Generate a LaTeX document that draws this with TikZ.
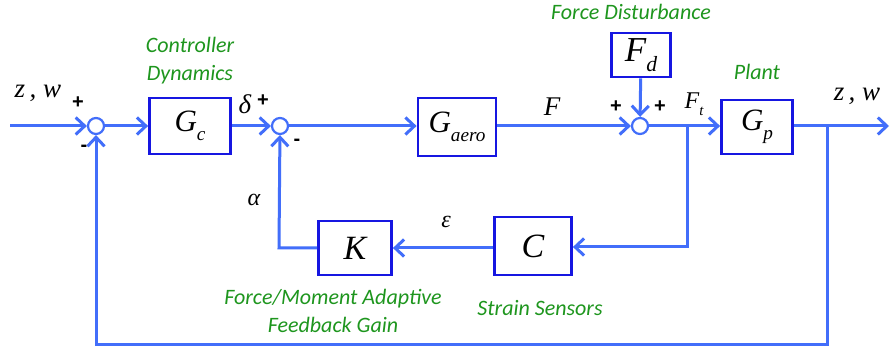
\documentclass[tikz,border=0pt]{standalone}
\usepackage{fontspec}
\usepackage{graphicx}
\setmainfont{Liberation Serif}
\newfontfamily\lblfont{Carlito}
\newfontfamily\signfont{Liberation Sans}
\usetikzlibrary{arrows.meta}

\definecolor{wireblue}{RGB}{66,110,250}
\definecolor{boxblue}{RGB}{22,22,225}
\definecolor{lblgreen}{RGB}{30,150,30}

% lowered, smaller index for block and signal names
\newcommand\idx[1]{\raisebox{-0.3em}{\scalebox{0.62}{#1}}}

\tikzset{
  wire/.style={draw=wireblue, line width=3pt, line join=miter},
  flow/.style={wire, -{Straight Barb[length=9pt,width=17pt]}},
  block/.style={draw=boxblue, line width=2.8pt, fill=white, inner sep=0pt},
  sumpt/.style={circle, draw=wireblue, line width=2.2pt, fill=white,
    minimum size=16pt, inner sep=0pt},
  note/.style={text=lblgreen, font=\lblfont\itshape\fontsize{22}{28}\selectfont,
    align=center, inner sep=0pt},
  sym/.style={font=\itshape\fontsize{31}{32}\selectfont, inner sep=0pt},
  lbl/.style={font=\itshape\fontsize{27}{28}\selectfont, inner sep=0pt},
  sign/.style={font=\signfont\bfseries\fontsize{20}{20}\selectfont, inner sep=0pt}
}

\begin{document}
\begin{tikzpicture}[x=1pt,y=-1pt]
\useasboundingbox[fill=white] (0,0) rectangle (892,352);

% blocks and summing junctions
\coordinate (in) at (10,126);
\node[sumpt] (s1) at (96,126) {};
\node[block, minimum width=81pt, minimum height=56pt] (Gc) at (190,126) {};
\node[sym] at (Gc) {G\idx{c}};
\node[sumpt] (s2) at (280,126) {};
\node[block, minimum width=78pt, minimum height=58pt] (Ga) at (457,127) {};
\node[sym] at (Ga) {G\idx{aero}};
\node[sumpt] (s3) at (640,126) {};
\node[block, minimum width=59pt, minimum height=44pt] (Fd) at (641,55) {};
\node[sym, font=\itshape\fontsize{35}{35}\selectfont] at (Fd) {F\idx{d}};
\node[block, minimum width=71pt, minimum height=54pt] (Gp) at (757,127) {};
\node[sym] at (Gp) {G\idx{p}};
\node[block, minimum width=77pt, minimum height=58pt] (C) at (533,246) {};
\node[sym, font=\itshape\fontsize{34}{34}\selectfont] at (C) {C};
\node[block, minimum width=73pt, minimum height=54pt] (K) at (355,248) {};
\node[sym, font=\itshape\fontsize{34}{34}\selectfont] at (K) {K};

% branch points and corners
\coordinate (b1) at (687,126);
\coordinate (b1d) at (687,247);
\coordinate (b2) at (827,126);
\coordinate (b2d) at (827,345);
\coordinate (s1d) at (96,345);
\coordinate (kl) at (279,248);
\coordinate (out) at (889,126);

% forward path
\draw[flow] (in) -- (s1);
\draw[flow] (s1) -- (Gc);
\draw[flow] (Gc) -- (s2);
\draw[flow] (s2) -- (s2 -| Ga.west);
\draw[flow] (Ga.east |- s3) -- (s3);
\draw[flow] (Fd) -- (s3);
\draw[flow] (s3) -- (s3 -| Gp.west);
\draw[flow] (Gp.east |- b2) -- (out);

% inner loop through the strain sensors
\draw[flow] (b1) -- (b1d) -- (b1d -| C.east);
\draw[flow] (C.west |- K) -- (K);
\draw[flow] (K.west) -- (kl) -- (s2);

% outer loop
\draw[flow] (b2) -- (b2d) -- (s1d) -- (s1);

% signal labels
\node[lbl] at (38,93) {z\,, w};
\node[lbl] at (857,96) {z\,, w};
\node[lbl] at (245,104) {δ};
\node[lbl] at (552,107) {F};
\node[lbl, font=\itshape\fontsize{24}{24}\selectfont] at (694,104) {F\idx{t}};
\node[lbl, font=\itshape\fontsize{24}{24}\selectfont] at (254,200) {α};
\node[lbl, font=\itshape\fontsize{24}{24}\selectfont] at (446,222) {ε};

% signs at the junctions
\node[sign] at (78,103) {+};
\node[sign] at (84,148) {-};
\node[sign] at (263,101) {+};
\node[sign] at (297,142) {-};
\node[sign] at (616,107) {+};
\node[sign] at (660,107) {+};

% block descriptions
\node[note] at (190,61) {Controller\\Dynamics};
\node[note] at (631,12) {Force Disturbance};
\node[note] at (757,72) {Plant};
\node[note] at (333,311) {Force/Moment Adaptive\\Feedback Gain};
\node[note] at (540,308) {Strain Sensors};
\end{tikzpicture}
\end{document}
